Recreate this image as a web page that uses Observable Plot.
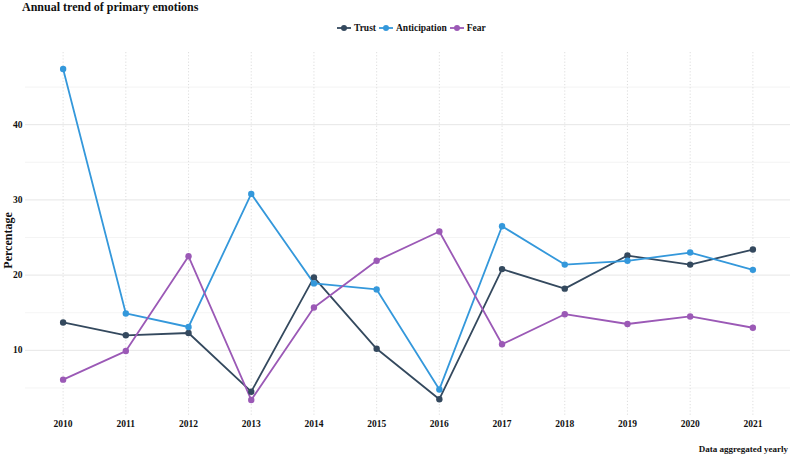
<!DOCTYPE html>
<html>
<head>
<meta charset="utf-8">
<script src="https://cdn.jsdelivr.net/npm/d3@7"></script>
<script src="https://cdn.jsdelivr.net/npm/@observablehq/plot@0.6"></script>
<style>
  body { margin: 0; background: #fff; }
  #wrap { position: relative; width: 790px; height: 457px; font-family: "Liberation Serif", "DejaVu Serif", serif; font-weight: bold; color: #111; }
  #title { position: absolute; left: 22px; top: 0px; font-size: 12px; line-height: 15px; }
  #legend { position: absolute; left: 337px; top: 21px; height: 14px; display: flex; align-items: center; font-size: 9.5px; }
  #legend .item { display: flex; align-items: center; margin-right: 3px; }
  #legend svg { margin-right: 3px; }
  #chart { position: absolute; left: 0; top: 38px; }
  #caption { position: absolute; right: 2px; top: 443px; font-size: 9px; line-height: 12px; }
</style>
</head>
<body>
<div id="wrap">
  <div id="title">Annual trend of primary emotions</div>
  <div id="legend"></div>
  <div id="chart"></div>
  <div id="caption">Data aggregated yearly</div>
</div>
<script>
const years = [2010, 2011, 2012, 2013, 2014, 2015, 2016, 2017, 2018, 2019, 2020, 2021];
const series = ["Trust", "Anticipation", "Fear"];
const colors = ["#34495e", "#3498db", "#9b59b6"];
const trust        = [13.7, 12.0, 12.3, 4.5, 19.7, 10.2, 3.5, 20.8, 18.2, 22.6, 21.4, 23.4];
const anticipation = [47.4, 14.9, 13.1, 30.8, 18.9, 18.1, 4.8, 26.5, 21.4, 21.9, 23.0, 20.7];
const fear         = [6.1, 9.9, 22.5, 3.4, 15.7, 21.9, 25.8, 10.8, 14.8, 13.5, 14.5, 13.0];
const yMajorTicks = [10, 20, 30, 40];
const yMinorTicks = [5, 15, 25, 35, 45];
const yLabel = "Percentage";

const valuesBySeries = {Trust: trust, Anticipation: anticipation, Fear: fear};
const data = series.flatMap(s => years.map((yr, i) => ({year: yr, value: valuesBySeries[s][i], series: s})));

// legend
const legend = document.getElementById("legend");
series.forEach((s, i) => {
  const item = document.createElement("div");
  item.className = "item";
  item.innerHTML = `<svg width="14" height="8"><line x1="0" x2="14" y1="4" y2="4" stroke="${colors[i]}" stroke-width="1.8"/><circle cx="7" cy="4" r="3" fill="${colors[i]}"/></svg><span>${s}</span>`;
  legend.appendChild(item);
});

const chart = Plot.plot({
  width: 790,
  height: 400,
  marginTop: 14,
  marginBottom: 22,
  marginLeft: 25,
  marginRight: 0,
  style: {fontFamily: "'Liberation Serif', serif", fontWeight: "bold", fontSize: "9.5px", background: "white", color: "#111"},
  x: {domain: [2009.4, 2021.6], label: null},
  y: {domain: [1.2, 49.6], label: null},
  color: {domain: series, range: colors},
  marks: [
    Plot.ruleY(yMinorTicks, {stroke: "#efefef", strokeWidth: 0.7}),
    Plot.ruleY(yMajorTicks, {stroke: "#e6e6e6", strokeWidth: 1}),
    Plot.ruleX(years, {stroke: "#d6d6d6", strokeWidth: 0.8, strokeDasharray: "1.2,2"}),
    Plot.line(data, {x: "year", y: "value", stroke: "series", strokeWidth: 1.8}),
    Plot.dot(data, {x: "year", y: "value", fill: "series", r: 3.2}),
    Plot.axisX(years, {tickFormat: d => String(d), tickSize: 0, tickPadding: 4, label: null}),
    Plot.axisY(yMajorTicks, {tickSize: 0, tickPadding: 3, label: null}),
    Plot.text([yLabel], {frameAnchor: "left", textAnchor: "middle", dx: -17, dy: 6, rotate: -90, fontSize: 12, fontWeight: "bold"})
  ]
});
document.getElementById("chart").appendChild(chart);
</script>
</body>
</html>
